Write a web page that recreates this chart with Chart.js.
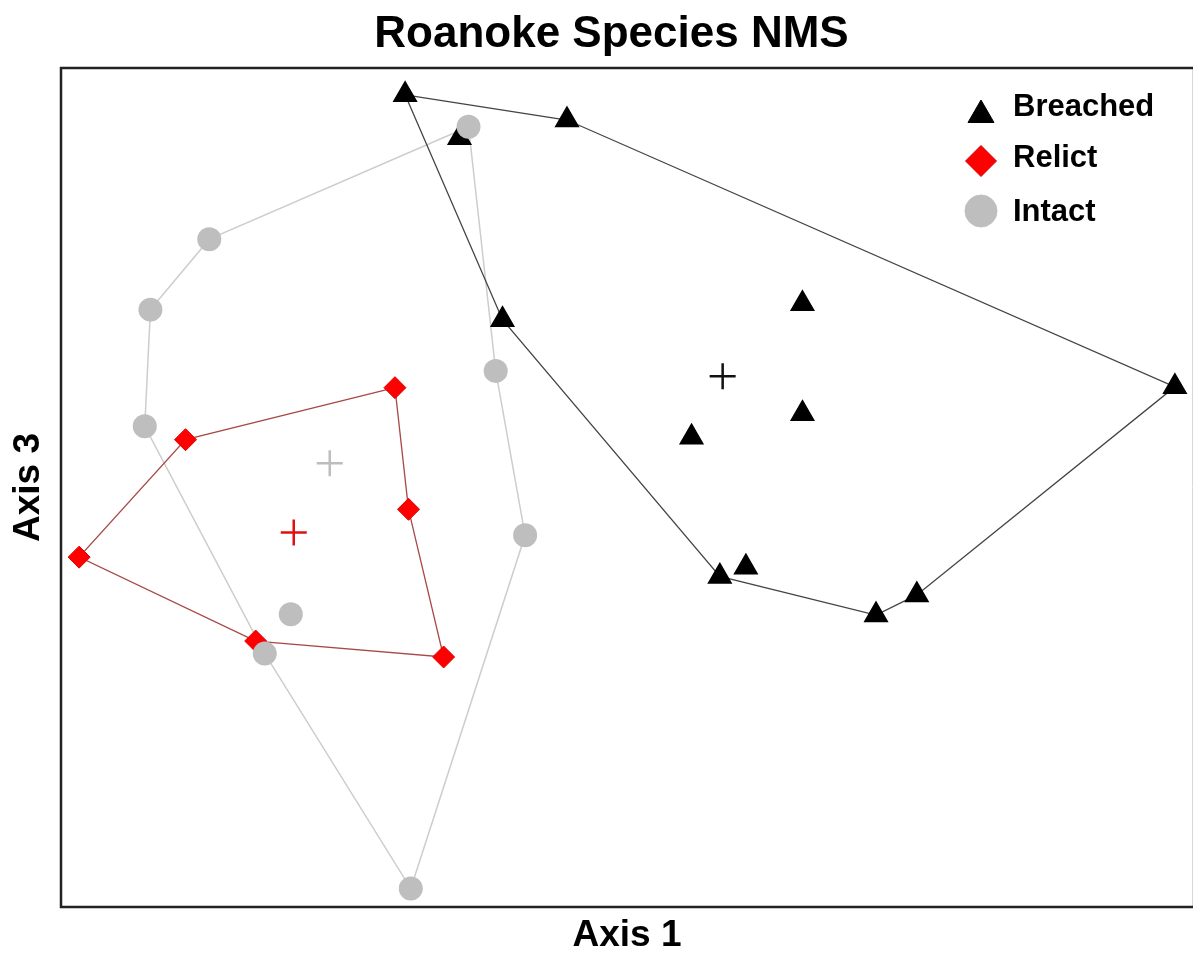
<!DOCTYPE html>
<html>
<head>
<meta charset="utf-8">
<title>Roanoke Species NMS</title>
<script src="https://cdn.jsdelivr.net/npm/chart.js@4.4.1/dist/chart.umd.min.js"></script>
<style>
  html, body { margin: 0; padding: 0; background: #fff; }
  #nmsChart { display: block; }
</style>
</head>
<body>
<canvas id="nmsChart" width="1194" height="957"></canvas>
<script>
// NMS scores (axes carry no ticks, so units are 0-100 of the frame)
const breachedX = [30.4, 44.7, 35.2, 39.0, 65.5, 65.5, 55.7, 98.4, 58.2, 60.5, 72.0, 75.6];
const breachedY = [96.8, 93.8, 91.7, 70.0, 71.9, 58.8, 56.0, 62.0, 39.4, 40.5, 34.8, 37.2];
const relictX = [29.5, 11.0, 30.7, 1.6, 17.2, 33.8];
const relictY = [61.9, 55.7, 47.4, 41.7, 31.7, 29.8];
const intactX = [36.0, 13.1, 7.9, 7.4, 38.4, 41.0, 20.3, 18.0, 30.9];
const intactY = [93.0, 79.6, 71.2, 57.3, 63.9, 44.3, 34.9, 30.2, 2.2];

// group centroids (the + marks)
const centroidX = [58.45, 20.56, 23.74];
const centroidY = [63.25, 44.64, 52.88];

// convex hull order (indexes into the arrays above)
const breachedHull = [0, 1, 7, 11, 10, 8, 3, 0];
const relictHull = [0, 1, 3, 4, 5, 2, 0];
const intactHull = [0, 1, 2, 3, 7, 8, 5, 4, 0];

const groups = ['Breached', 'Relict', 'Intact'];

const FONT = "'Liberation Sans', Arial, sans-serif";

function pts(xs, ys) {
  return xs.map((x, i) => ({ x: x, y: ys[i] }));
}
function hull(xs, ys, order) {
  return order.map(i => ({ x: xs[i], y: ys[i] }));
}

const breachedPts = pts(breachedX, breachedY);
const relictPts = pts(relictX, relictY);
const intactPts = pts(intactX, intactY);

// frame round the plot area
const frame = {
  id: 'frame',
  afterDraw(chart) {
    const { ctx, chartArea: a } = chart;
    ctx.save();
    ctx.strokeStyle = '#d8d8d8';
    ctx.lineWidth = 1;
    ctx.beginPath();
    ctx.moveTo(a.right - 0.5, a.top);
    ctx.lineTo(a.right - 0.5, a.bottom);
    ctx.stroke();
    ctx.strokeStyle = '#222';
    ctx.lineWidth = 2.5;
    ctx.beginPath();
    ctx.moveTo(a.right, a.top);
    ctx.lineTo(a.left, a.top);
    ctx.lineTo(a.left, a.bottom);
    ctx.lineTo(a.right, a.bottom);
    ctx.stroke();
    ctx.restore();
  }
};

// legend in the top right corner, like the original
const legendBox = {
  id: 'legendBox',
  afterDraw(chart) {
    const { ctx, chartArea: a } = chart;
    const items = [
      { text: groups[0], style: 'triangle', r: 15, fill: '#000', stroke: '#000', dy: 47, ty: 39 },
      { text: groups[1], style: 'rectRot', r: 15.5, fill: '#ff0000', stroke: '#d00000', dy: 93, ty: 90 },
      { text: groups[2], style: 'circle', r: 16, fill: '#bebebe', stroke: '#bebebe', dy: 143, ty: 144 }
    ];
    ctx.save();
    items.forEach(it => {
      ctx.fillStyle = it.fill;
      ctx.strokeStyle = it.stroke;
      ctx.lineWidth = 1;
      Chart.helpers.drawPoint(ctx, { pointStyle: it.style, radius: it.r, rotation: 0, borderWidth: 1 },
        a.right - 212, a.top + it.dy);
      ctx.fillStyle = '#000';
      ctx.font = 'bold 31px ' + FONT;
      ctx.textBaseline = 'middle';
      ctx.textAlign = 'left';
      ctx.fillText(it.text, a.right - 180, a.top + it.ty);
    });
    ctx.restore();
  }
};

const ctxNms = document.getElementById('nmsChart');

new Chart(ctxNms, {
  type: 'scatter',
  data: {
    datasets: [
      {
        label: 'Intact',
        data: intactPts,
        pointStyle: 'circle',
        pointRadius: 12,
        pointBackgroundColor: '#bebebe',
        pointBorderColor: '#bebebe',
        pointBorderWidth: 0,
        order: 1
      },
      {
        label: 'Breached',
        data: breachedPts,
        pointStyle: 'triangle',
        pointRadius: 13,
        pointBackgroundColor: '#000',
        pointBorderColor: '#000',
        pointBorderWidth: 1.5,
        order: 2
      },
      {
        label: 'Relict',
        data: relictPts,
        pointStyle: 'rectRot',
        pointRadius: 11,
        pointBackgroundColor: '#ff0000',
        pointBorderColor: '#e00000',
        pointBorderWidth: 1,
        order: 3
      },
      {
        label: 'centroids',
        data: pts(centroidX, centroidY),
        pointStyle: 'cross',
        pointRadius: 13,
        pointBorderWidth: 2.5,
        pointBorderColor: ['#111', '#e01010', '#bdbdbd'],
        order: 4
      },
      {
        label: 'Breached hull',
        data: hull(breachedX, breachedY, breachedHull),
        showLine: true,
        pointRadius: 0,
        borderColor: '#444',
        borderWidth: 1.3,
        order: 5
      },
      {
        label: 'Relict hull',
        data: hull(relictX, relictY, relictHull),
        showLine: true,
        pointRadius: 0,
        borderColor: '#a84848',
        borderWidth: 1.3,
        order: 6
      },
      {
        label: 'Intact hull',
        data: hull(intactX, intactY, intactHull),
        showLine: true,
        pointRadius: 0,
        borderColor: '#cdcdcd',
        borderWidth: 1.5,
        order: 7
      }
    ]
  },
  options: {
    responsive: false,
    animation: false,
    devicePixelRatio: 1,
    clip: false,
    layout: { autoPadding: false, padding: { left: 30, right: 1, top: 0, bottom: 0 } },
    plugins: {
      legend: { display: false },
      tooltip: { enabled: false },
      title: {
        display: true,
        text: 'Roanoke Species NMS',
        color: '#000',
        font: { family: FONT, size: 44, weight: 'bold' },
        padding: { top: 8, bottom: 7.2 }
      }
    },
    scales: {
      x: {
        type: 'linear',
        min: 0,
        max: 100,
        grid: { display: false },
        border: { display: false },
        ticks: { display: false },
        title: {
          display: true,
          text: 'Axis 1',
          color: '#000',
          font: { family: FONT, size: 37, weight: 'bold' },
          padding: { top: 0, bottom: -1 }
        },
        afterFit(scale) { scale.height = 50; }
      },
      y: {
        type: 'linear',
        min: 0,
        max: 100,
        grid: { display: false },
        border: { display: false },
        ticks: { display: false },
        title: {
          display: true,
          text: 'Axis 3',
          color: '#000',
          font: { family: FONT, size: 37, weight: 'bold' },
          padding: { top: -23, bottom: 0 }
        },
        afterFit(scale) { scale.width = 31; }
      }
    }
  },
  plugins: [frame, legendBox]
});
</script>
</body>
</html>
